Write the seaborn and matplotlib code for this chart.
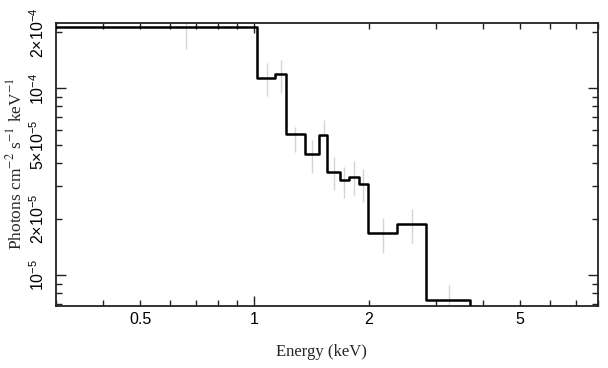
import numpy as np
import pandas as pd
import matplotlib
matplotlib.use("Agg")
import matplotlib.pyplot as plt
import seaborn as sns
from matplotlib.ticker import FixedLocator, FuncFormatter

# ---- data ----
bin_edges = [0.25, 1.0165, 1.136, 1.214, 1.356, 1.483, 1.554, 1.675, 1.776,
             1.883, 1.991, 2.378, 2.834, 3.691]
model_flux = [2.13e-4, 1.134e-4, 1.19e-4, 5.70e-5, 4.43e-5, 5.63e-5, 3.55e-5,
              3.21e-5, 3.36e-5, 3.08e-5, 1.675e-5, 1.88e-5, 7.34e-6]
flux_floor = 1e-7

err_energy = [0.661, 1.080, 1.173, 1.282, 1.416, 1.520, 1.618, 1.719, 1.826,
              1.934, 2.183, 2.603, 3.258]
err_low = [1.62e-4, 9.12e-5, 9.49e-5, 4.57e-5, 3.54e-5, 5.63e-5, 2.86e-5,
           2.58e-5, 2.69e-5, 2.47e-5, 1.318e-5, 1.49e-5, 6.0e-6]
err_high = [2.6e-4, 1.365e-4, 1.422e-4, 6.22e-5, 5.30e-5, 6.78e-5, 4.28e-5,
            3.81e-5, 4.06e-5, 3.69e-5, 2.01e-5, 2.25e-5, 8.84e-6]

x_major = [1.0]
x_minor = [0.3, 0.4, 0.5, 0.6, 0.7, 0.8, 0.9, 2, 3, 4, 5, 6, 7, 8]
x_tick_labels = {0.5: "0.5", 1.0: "1", 2.0: "2", 5.0: "5"}

y_major = [1e-5, 1e-4]
y_minor = [7e-6, 8e-6, 9e-6, 2e-5, 3e-5, 4e-5, 5e-5, 6e-5, 7e-5, 8e-5, 9e-5, 2e-4]
y_tick_labels = {1e-5: r"$10^{-5}$", 2e-5: r"$2{\times}10^{-5}$",
                 5e-5: r"$5{\times}10^{-5}$", 1e-4: r"$10^{-4}$",
                 2e-4: r"$2{\times}10^{-4}$"}

x_range = (0.3, 8.0)
y_range = (6.86e-6, 2.25e-4)

# ---- style ----
sns.set_style("ticks")
plt.rcParams["font.family"] = ["Liberation Sans", "DejaVu Sans"]
plt.rcParams["mathtext.fontset"] = "custom"
plt.rcParams["mathtext.rm"] = "Liberation Sans"
plt.rcParams["mathtext.it"] = "Liberation Sans:italic"
plt.rcParams["mathtext.bf"] = "Liberation Sans:bold"

fig = plt.figure(figsize=(6.08, 3.68), dpi=100)
ax = fig.add_axes([0.0916, 0.1698, 0.983 - 0.0916, 0.9383 - 0.1698])
ax.set_xscale("log")
ax.set_yscale("log")

# error bars (light grey)
ax.vlines(err_energy, err_low, err_high, color="#d4d4d4", lw=1.0, zorder=1)

# folded model as step histogram
step_df = pd.DataFrame({"energy": bin_edges, "flux": model_flux + [flux_floor]})
sns.lineplot(data=step_df, x="energy", y="flux", drawstyle="steps-post",
             estimator=None, sort=False, color="black", lw=1.8, ax=ax, zorder=3)

ax.set_xlim(*x_range)
ax.set_ylim(*y_range)


def lab_from(d):
    def f(v, pos):
        for k, s in d.items():
            if np.isclose(v, k, rtol=1e-6):
                return s
        return ""
    return f


ax.xaxis.set_major_locator(FixedLocator(x_major))
ax.xaxis.set_minor_locator(FixedLocator(x_minor))
ax.xaxis.set_major_formatter(FuncFormatter(lab_from(x_tick_labels)))
ax.xaxis.set_minor_formatter(FuncFormatter(lab_from(x_tick_labels)))
ax.yaxis.set_major_locator(FixedLocator(y_major))
ax.yaxis.set_minor_locator(FixedLocator(y_minor))
ax.yaxis.set_major_formatter(FuncFormatter(lab_from(y_tick_labels)))
ax.yaxis.set_minor_formatter(FuncFormatter(lab_from(y_tick_labels)))

ax.tick_params(which="both", direction="in", top=True, right=True,
               color="#222222", labelsize=11.5, labelcolor="black")
ax.tick_params(which="major", length=7.5, width=1.0)
ax.tick_params(which="minor", length=4, width=1.0)
ax.tick_params(axis="x", which="both", pad=5)
ax.tick_params(axis="y", which="both", labelrotation=90, pad=6)

for sp in ax.spines.values():
    sp.set_visible(True)
    sp.set_linewidth(1.3)
    sp.set_color("#222222")

ax.set_xlabel("Energy (keV)", family="Liberation Serif", fontsize=12,
              math_fontfamily="stix")
ax.xaxis.set_label_coords(0.491, -0.137)
ax.set_ylabel(r"Photons cm$^{-2}$ s$^{-1}$ keV$^{-1}$", family="Liberation Serif",
              fontsize=12.5, math_fontfamily="stix")
ax.yaxis.set_label_coords(-0.056, 0.5)

fig.canvas.draw()
for t in ax.yaxis.get_major_ticks() + ax.yaxis.get_minor_ticks():
    t.label1.set_verticalalignment("center")
    t.label1.set_horizontalalignment("right")

fig.savefig("out.png", dpi=100)
